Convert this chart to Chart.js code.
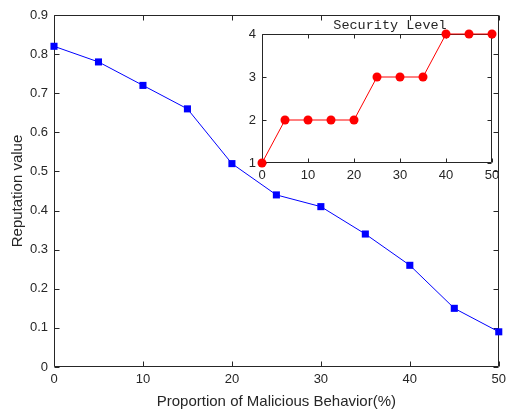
<!DOCTYPE html>
<html>
<head>
<meta charset="utf-8">
<script src="https://cdn.jsdelivr.net/npm/chart.js@4/dist/chart.umd.min.js"></script>
<style>
  body { margin: 0; background: #fff; }
  #wrap { position: relative; width: 511px; height: 412px; }
  #mainChart { position: absolute; left: 0; top: 0; }
  #insetChart { position: absolute; left: 222px; top: 8px; }
</style>
</head>
<body>
<div id="wrap">
  <canvas id="mainChart" width="511" height="412"></canvas>
  <canvas id="insetChart" width="285" height="185"></canvas>
</div>
<script>
const MALICIOUS_PCT = [0, 5, 10, 15, 20, 25, 30, 35, 40, 45, 50];
const REPUTATION = [0.82, 0.78, 0.72, 0.66, 0.52, 0.44, 0.41, 0.34, 0.26, 0.15, 0.09];
const SECURITY_LEVEL = [1, 2, 2, 2, 2, 3, 3, 3, 4, 4, 4];

const X_TICKS = [0, 10, 20, 30, 40, 50];
const REP_TICKS = [0, 0.1, 0.2, 0.3, 0.4, 0.5, 0.6, 0.7, 0.8, 0.9];
const LEVEL_TICKS = [1, 2, 3, 4];

const AXIS_COLOR = '#262626';
const SANS = 'Liberation Sans, Arial, sans-serif';

function toPoints(xs, ys) {
    return xs.map((x, i) => ({x: x, y: ys[i]}));
}

// matlab style box with inward ticks on all four sides
function boxPlugin(tickLen, fillArea) {
    return {
        id: 'box',
        beforeDraw(chart) {
            if (!fillArea) return;
            const {ctx, chartArea: a} = chart;
            ctx.save();
            ctx.fillStyle = '#fff';
            ctx.fillRect(a.left, a.top, a.right - a.left, a.bottom - a.top);
            ctx.restore();
        },
        beforeDatasetsDraw(chart) {
            const {ctx, chartArea: a, scales} = chart;
            const l = Math.round(a.left) + 0.5, r = Math.round(a.right) - 0.5;
            const t = Math.round(a.top) + 0.5, b = Math.round(a.bottom) - 0.5;
            ctx.save();
            ctx.strokeStyle = AXIS_COLOR;
            ctx.lineWidth = 1;
            ctx.beginPath();
            ctx.rect(l, t, r - l, b - t);
            for (let tk of scales.x.ticks) {
                const px = Math.round(scales.x.getPixelForValue(tk.value)) + 0.5;
                ctx.moveTo(px, b); ctx.lineTo(px, b - tickLen);
                ctx.moveTo(px, t); ctx.lineTo(px, t + tickLen);
            }
            for (let tk of scales.y.ticks) {
                const py = Math.round(scales.y.getPixelForValue(tk.value)) + 0.5;
                ctx.moveTo(l, py); ctx.lineTo(l + tickLen, py);
                ctx.moveTo(r, py); ctx.lineTo(r - tickLen, py);
            }
            ctx.stroke();
            ctx.restore();
        }
    };
}

const insetTitle = {
    id: 'insetTitle',
    afterDraw(chart) {
        const ctx = chart.ctx;
        ctx.save();
        ctx.fillStyle = AXIS_COLOR;
        ctx.font = '13.5px "Liberation Mono", "Courier New", monospace';
        ctx.textAlign = 'center';
        ctx.textBaseline = 'middle';
        ctx.fillText('Security Level', 168, 17);
        ctx.restore();
    }
};

function plotMainChart() {
    const config = {
        type: 'line',
        data: {
            datasets: [{
                label: 'Reputation value',
                data: toPoints(MALICIOUS_PCT, REPUTATION),
                borderColor: '#0000ff',
                backgroundColor: '#0000ff',
                borderWidth: 1,
                pointStyle: 'rect',
                pointRadius: 5,
                pointBorderWidth: 0,
                tension: 0,
                clip: false
            }]
        },
        options: {
            responsive: false,
            animation: false,
            layout: { padding: { left: 0, top: 15, right: 11, bottom: 0 } },
            plugins: { legend: { display: false }, tooltip: { enabled: false } },
            scales: {
                x: {
                    type: 'linear', min: 0, max: 50,
                    afterBuildTicks: s => { s.ticks = X_TICKS.map(v => ({value: v})); },
                    afterFit: s => { s.height = 45; },
                    grid: { display: false, drawTicks: false },
                    border: { display: false },
                    ticks: { color: AXIS_COLOR, padding: 5, font: { family: SANS, size: 13 } },
                    title: {
                        display: true, text: 'Proportion of Malicious Behavior(%)',
                        color: AXIS_COLOR, padding: { top: 0, bottom: 1 },
                        font: { family: SANS, size: 15 }
                    }
                },
                y: {
                    type: 'linear', min: 0, max: 0.9,
                    afterBuildTicks: s => { s.ticks = REP_TICKS.map(v => ({value: v})); },
                    afterFit: s => { s.width = 54; },
                    grid: { display: false, drawTicks: false },
                    border: { display: false },
                    ticks: { color: AXIS_COLOR, padding: 6, font: { family: SANS, size: 13 } },
                    title: {
                        display: true, text: 'Reputation value',
                        color: AXIS_COLOR, padding: { top: 9, bottom: 0 },
                        font: { family: SANS, size: 15 }
                    }
                }
            }
        },
        plugins: [boxPlugin(5, false)]
    };
    new Chart(document.getElementById('mainChart'), config);
}

function plotInsetChart() {
    const config = {
        type: 'line',
        data: {
            datasets: [{
                label: 'Security Level',
                data: toPoints(MALICIOUS_PCT, SECURITY_LEVEL),
                borderColor: '#ff0000',
                backgroundColor: '#ff0000',
                borderWidth: 1,
                pointStyle: 'circle',
                pointRadius: 4.5,
                pointBorderWidth: 0,
                tension: 0,
                clip: false
            }]
        },
        options: {
            responsive: false,
            animation: false,
            layout: { padding: { left: 0, top: 26, right: 15, bottom: 0 } },
            plugins: { legend: { display: false }, tooltip: { enabled: false } },
            scales: {
                x: {
                    type: 'linear', min: 0, max: 50,
                    afterBuildTicks: s => { s.ticks = X_TICKS.map(v => ({value: v})); },
                    afterFit: s => { s.height = 30; },
                    grid: { display: false, drawTicks: false },
                    border: { display: false },
                    ticks: { color: AXIS_COLOR, padding: 5, font: { family: SANS, size: 13 } }
                },
                y: {
                    type: 'linear', min: 1, max: 4,
                    afterBuildTicks: s => { s.ticks = LEVEL_TICKS.map(v => ({value: v})); },
                    afterFit: s => { s.width = 40; },
                    grid: { display: false, drawTicks: false },
                    border: { display: false },
                    ticks: { color: AXIS_COLOR, padding: 6, font: { family: SANS, size: 13 } }
                }
            }
        },
        plugins: [boxPlugin(4, true), insetTitle]
    };
    new Chart(document.getElementById('insetChart'), config);
}

plotMainChart();
plotInsetChart();
</script>
</body>
</html>
